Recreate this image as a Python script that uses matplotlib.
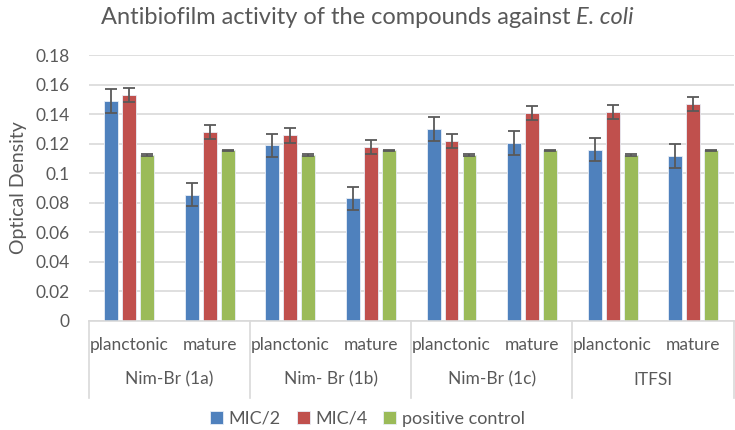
import numpy as np
from matplotlib import pyplot as plt

plt.rcParams["font.family"] = "Lato"

# data
groups = ['Nim-Br (1a)', 'Nim- Br (1b)', 'Nim-Br (1c)', 'ITFSI']
stages = ['planctonic', 'mature']
mic2 = [0.149, 0.0855, 0.119, 0.083, 0.130, 0.1205, 0.116, 0.1117]
mic2_err = [0.008, 0.008, 0.0077, 0.008, 0.008, 0.0079, 0.0079, 0.0079]
mic4 = [0.153, 0.128, 0.1257, 0.118, 0.122, 0.1405, 0.1414, 0.1471]
mic4_err = [0.0045, 0.0045, 0.005, 0.0047, 0.0047, 0.0048, 0.005, 0.0047]
ctrl = [0.1125, 0.1155, 0.1125, 0.1155, 0.1125, 0.1155, 0.1125, 0.1155]
ctrl_err = [0.0005] * 8
series = ['MIC/2', 'MIC/4', 'positive control']
colors = ['#4F81BD', '#C0504D', '#9BBB59']

fig = plt.figure(figsize=(7.35, 4.3), dpi=100)
ax = fig.add_axes([0.121, 0.2535, 0.877, 0.6185])

x = np.arange(len(mic2))
w = 0.173
step = 0.223
for i, (vals, errs) in enumerate([(mic2, mic2_err), (mic4, mic4_err), (ctrl, ctrl_err)]):
    ax.bar(x + (i - 1) * step, vals, w, color=colors[i], edgecolor='#e8eef7',
           linewidth=0.6, label=series[i], zorder=2,
           yerr=errs, error_kw=dict(ecolor='#595959', elinewidth=1.3,
                                    capsize=4, capthick=1.3, zorder=3))

ax.set_xlim(-0.5, len(x) - 0.5)
ax.set_ylim(0, 0.18)
ax.set_yticks(np.arange(0, 0.181, 0.02))
ax.set_yticklabels(['0'] + ['%g' % v for v in np.arange(0.02, 0.181, 0.02)])
ax.yaxis.grid(True, color='#d9d9d9', linewidth=1.2, zorder=0)
ax.set_axisbelow(True)
ax.tick_params(axis='y', length=0, pad=14, labelsize=12.5, labelcolor='#595959')
ax.set_xticks([])
for s in ['top', 'right', 'left']:
    ax.spines[s].set_visible(False)
ax.spines['bottom'].set_color('#d9d9d9')
ax.spines['bottom'].set_linewidth(1.2)
ax.set_ylabel('Optical Density', fontsize=14, color='#595959', labelpad=6)

# two-level category axis
trans = ax.get_xaxis_transform()
for k in range(len(groups) + 1):
    ax.plot([2 * k - 0.5] * 2, [0, -0.29], transform=trans, color='#d9d9d9',
            linewidth=1.2, clip_on=False)
for j in range(len(x)):
    ax.text(x[j], -0.09, stages[j % 2], transform=trans, ha='center', va='center',
            fontsize=12.5, color='#595959')
for k, g in enumerate(groups):
    ax.text(2 * k + 0.5, -0.22, g, transform=trans, ha='center', va='center',
            fontsize=12.5, color='#595959')

fig.legend(*ax.get_legend_handles_labels(), loc='center', bbox_to_anchor=(0.5, 0.026),
           ncol=3, frameon=False, fontsize=13, handlelength=0.7, handleheight=0.7,
           handletextpad=0.3, columnspacing=0.9, labelcolor='#595959')

# title with italic species name
t1 = fig.text(0, 0.96, 'Antibiofilm activity of the compounds against ', ha='left',
              va='center', fontsize=17, color='#595959')
t2 = fig.text(0, 0.96, 'E. coli', ha='left', va='center', fontsize=17,
              color='#595959', style='italic')
r = fig.canvas.get_renderer()
w1 = t1.get_window_extent(r).width
w2 = t2.get_window_extent(r).width
x0 = (fig.bbox.width - w1 - w2) / 2
t1.set_x(x0 / fig.bbox.width)
t2.set_x((x0 + w1) / fig.bbox.width)

plt.savefig('out.png')
